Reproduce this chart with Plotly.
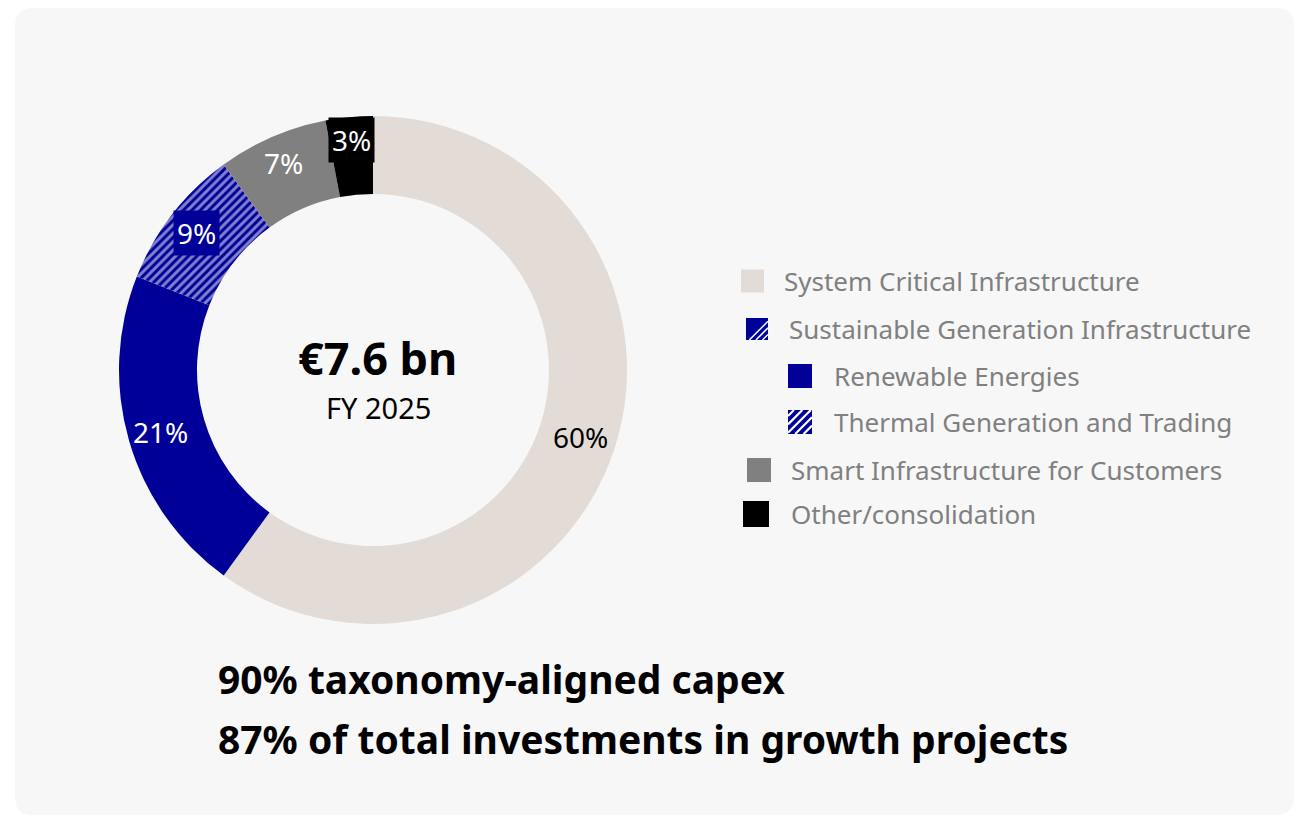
import math
import plotly.graph_objects as go

# ---- data ----
segment_labels = ["System Critical Infrastructure", "Renewable Energies",
                  "Thermal Generation and Trading", "Smart Infrastructure for Customers",
                  "Other/consolidation"]
segment_values = [60, 21, 9, 7, 3]
segment_colors = ["#e3dbd5", "#000099", "#000099", "#808080", "#000000"]
segment_patterns = ["", "", "/", "", ""]
label_bg = [None, None, "#000099", None, "#000000"]
label_color = ["#000000", "#ffffff", "#ffffff", "#ffffff", "#ffffff"]
label_r_offset = [3, 6, 8, 10, 16]   # style: radial nudge of slice labels (px)

legend_labels = ["System Critical Infrastructure", "Sustainable Generation Infrastructure",
                 "Renewable Energies", "Thermal Generation and Trading",
                 "Smart Infrastructure for Customers", "Other/consolidation"]
legend_colors = ["#e3dbd5", "#000099", "#000099", "#000099", "#808080", "#000000"]
legend_hatch = [None, "light", None, "dense", None, None]

total_text = "€7.6 bn"
period_text = "FY 2025"
footnotes = ["90% taxonomy-aligned capex", "87% of total investments in growth projects"]

W, H = 1302, 818        # page size
OFF = 8                 # page body margin
Wf, Hf = W - OFF, H - OFF
FONT = "Noto Sans"


def X(px):
    return (px - OFF) / Wf


def Y(py):
    return 1 - (py - OFF) / Hf


# donut geometry (page pixels)
cx, cy, R = 373, 370, 254
hole = 0.693

fig = go.Figure()
fig.add_trace(go.Pie(
    labels=segment_labels, values=segment_values, sort=False, direction="clockwise",
    rotation=0, hole=hole, textinfo="none", hoverinfo="label+percent",
    marker=dict(colors=segment_colors, line=dict(width=0),
                pattern=dict(shape=segment_patterns, fgcolor="#ffffff",
                             size=6, solidity=0.5, fillmode="overlay")),
    domain=dict(x=[X(cx - R), X(cx + R)], y=[Y(cy + R), Y(cy - R)]),
    showlegend=False,
))

shapes = []
# card background
x0, y0, x1, y1, rr = 15, 8, 1294, 815, 18
path = (f"M {X(x0+rr)} {Y(y0)} L {X(x1-rr)} {Y(y0)} Q {X(x1)} {Y(y0)} {X(x1)} {Y(y0+rr)} "
        f"L {X(x1)} {Y(y1-rr)} Q {X(x1)} {Y(y1)} {X(x1-rr)} {Y(y1)} "
        f"L {X(x0+rr)} {Y(y1)} Q {X(x0)} {Y(y1)} {X(x0)} {Y(y1-rr)} "
        f"L {X(x0)} {Y(y0+rr)} Q {X(x0)} {Y(y0)} {X(x0+rr)} {Y(y0)} Z")
shapes.append(dict(type="path", xref="paper", yref="paper", path=path,
                   fillcolor="#f7f7f7", line=dict(width=0), layer="below"))

annotations = []
# slice labels from cumulative values
total = sum(segment_values)
cum = 0
rmid = R * (1 + hole) / 2
for v, bg, col, dr in zip(segment_values, label_bg, label_color, label_r_offset):
    mid = (cum + v / 2) / total * 2 * math.pi
    cum += v
    px = cx + (rmid + dr) * math.sin(mid)
    py = cy - (rmid + dr) * math.cos(mid)
    a = dict(x=X(px), y=Y(py), xref="paper", yref="paper", text=f"{v}%",
             showarrow=False, font=dict(family=FONT, size=28, color=col),
             xanchor="center", yanchor="middle")
    if bg:
        a.update(bgcolor=bg, borderpad=3)
    annotations.append(a)

# center text
annotations.append(dict(x=X(377), y=Y(358), xref="paper", yref="paper", text=f"<b>{total_text}</b>",
                        showarrow=False, xanchor="center", yanchor="middle",
                        font=dict(family=FONT, size=45, color="#000000")))
annotations.append(dict(x=X(378), y=Y(407), xref="paper", yref="paper", text=period_text,
                        showarrow=False, xanchor="center", yanchor="middle",
                        font=dict(family=FONT, size=29, color="#000000")))

# legend (manual, with indentation)
rows_y = [281, 329, 376, 422, 470, 514]
icon_x = [741, 746, 788, 788, 747, 743]
icon_s = [23, 22, 24, 24, 24, 26]
text_x = [782, 787, 832, 832, 789, 789]
for lab, col, hatch, ry, ix, s, tx in zip(legend_labels, legend_colors, legend_hatch,
                                          rows_y, icon_x, icon_s, text_x):
    iy = ry - s / 2
    shapes.append(dict(type="rect", xref="paper", yref="paper", x0=X(ix), x1=X(ix + s),
                       y0=Y(iy + s), y1=Y(iy), fillcolor=col, line=dict(width=0)))
    if hatch:
        ks = [1.15, 1.45, 1.75] if hatch == "light" else [0.25, 0.6, 0.95, 1.3, 1.65]
        lw = 1.5 if hatch == "light" else 2.2
        for k in ks:
            kk = k * s
            xa, xb = max(0, kk - s), min(s, kk)
            shapes.append(dict(type="line", xref="paper", yref="paper",
                               x0=X(ix + xa), y0=Y(iy + kk - xa), x1=X(ix + xb), y1=Y(iy + kk - xb),
                               line=dict(color="#ffffff", width=lw)))
    annotations.append(dict(x=X(tx), y=Y(ry), xref="paper", yref="paper", text=lab,
                            showarrow=False, xanchor="left", yanchor="middle",
                            font=dict(family=FONT, size=26, color="#808080")))

# footnotes
for t, fy in zip(footnotes, [678, 738]):
    annotations.append(dict(x=X(216), y=Y(fy), xref="paper", yref="paper", text=f"<b>{t}</b>",
                            showarrow=False, xanchor="left", yanchor="middle",
                            font=dict(family=FONT, size=39, color="#000000")))

fig.update_layout(width=Wf, height=Hf, margin=dict(l=0, r=0, t=0, b=0),
                  paper_bgcolor="#ffffff", plot_bgcolor="#ffffff",
                  shapes=shapes, annotations=annotations)
fig.write_html("out.html")
